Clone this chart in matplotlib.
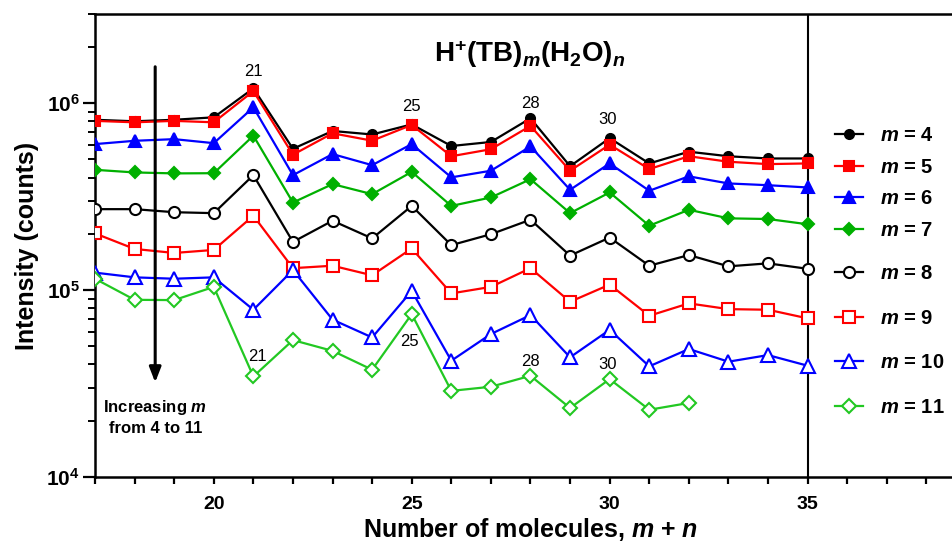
import math
import matplotlib
matplotlib.use("Agg")
import matplotlib.pyplot as plt
from matplotlib.ticker import FixedLocator, FuncFormatter, LogLocator, NullFormatter, MultipleLocator

plt.rcParams["font.family"] = ["Liberation Sans", "DejaVu Sans"]
plt.rcParams["mathtext.fontset"] = "custom"
plt.rcParams["mathtext.rm"] = "Liberation Sans:bold"
plt.rcParams["mathtext.bf"] = "Liberation Sans:bold"
plt.rcParams["mathtext.it"] = "Liberation Sans:bold:italic"

# cluster size m + n
size_all = list(range(17, 36))
size_m11 = list(range(17, 33))

# intensities (counts) for each m
m4 = [8.15e5, 8.0e5, 8.15e5, 8.4e5, 1.2e6, 5.7e5, 7.1e5, 6.8e5, 7.7e5, 5.9e5,
      6.2e5, 8.3e5, 4.6e5, 6.5e5, 4.76e5, 5.5e5, 5.2e5, 5.06e5, 5.06e5]
m5 = [8.04e5, 7.9e5, 8.04e5, 7.9e5, 1.16e6, 5.3e5, 6.9e5, 6.3e5, 7.65e5, 5.2e5,
      5.67e5, 7.56e5, 4.35e5, 6.0e5, 4.44e5, 5.2e5, 4.86e5, 4.72e5, 4.76e5]
m6 = [6.04e5, 6.29e5, 6.42e5, 6.11e5, 9.5e5, 4.12e5, 5.34e5, 4.66e5, 6.04e5, 4.01e5,
      4.35e5, 5.87e5, 3.44e5, 4.76e5, 3.4e5, 4.06e5, 3.72e5, 3.64e5, 3.54e5]
m7 = [4.4e5, 4.26e5, 4.21e5, 4.22e5, 6.7e5, 2.94e5, 3.69e5, 3.26e5, 4.29e5, 2.82e5,
      3.13e5, 3.92e5, 2.58e5, 3.33e5, 2.21e5, 2.69e5, 2.42e5, 2.4e5, 2.25e5]
m8 = [2.71e5, 2.71e5, 2.61e5, 2.58e5, 4.12e5, 1.81e5, 2.35e5, 1.89e5, 2.82e5, 1.74e5,
      1.99e5, 2.38e5, 1.53e5, 1.91e5, 1.35e5, 1.54e5, 1.34e5, 1.39e5, 1.3e5]
m9 = [2.01e5, 1.66e5, 1.58e5, 1.64e5, 2.5e5, 1.31e5, 1.35e5, 1.2e5, 1.67e5, 9.6e4,
      1.04e5, 1.31e5, 8.66e4, 1.07e5, 7.29e4, 8.49e4, 7.91e4, 7.85e4, 7.06e4]
m10 = [1.24e5, 1.17e5, 1.15e5, 1.17e5, 7.85e4, 1.28e5, 6.95e4, 5.58e4, 9.9e4, 4.19e4,
       5.82e4, 7.35e4, 4.37e4, 6.13e4, 3.91e4, 4.84e4, 4.14e4, 4.49e4, 3.94e4]
m11 = [1.15e5, 8.87e4, 8.84e4, 1.04e5, 3.45e4, 5.4e4, 4.73e4, 3.75e4, 7.44e4, 2.89e4,
       3.04e4, 3.48e4, 2.34e4, 3.34e4, 2.29e4, 2.49e4]

# magic-number labels: (text, x, y)
peak_labels_top = [("21", 21.0, 1.48e6), ("25", 25.0, 9.64e5), ("28", 28.0, 9.94e5), ("30", 29.95, 8.21e5)]
peak_labels_low = [("21", 21.1, 4.44e4), ("25", 24.95, 5.33e4), ("28", 28.0, 4.17e4), ("30", 29.95, 4.02e4)]

series = [
    ("4", size_all, m4, "k", "o", "k", 6.5),
    ("5", size_all, m5, "#ff0000", "s", "#ff0000", 7.5),
    ("6", size_all, m6, "#0000ff", "^", "#0000ff", 8),
    ("7", size_all, m7, "#00b000", "D", "#00b000", 6.5),
    ("8", size_all, m8, "k", "o", "white", 8),
    ("9", size_all, m9, "#ff0000", "s", "white", 8),
    ("10", size_all, m10, "#0000ff", "^", "white", 10),
    ("11", size_m11, m11, "#22c822", "D", "white", 7.5),
]

fig = plt.figure(figsize=(9.53, 5.42), dpi=100)
ax = fig.add_axes([0.0997, 0.1199, 0.9139, 0.8543])

lines = []
for m, xs, ys, col, mk, face, ms in series:
    ln, = ax.plot(xs, ys, color=col, lw=1.6, marker=mk, markersize=ms,
                  markerfacecolor=face, markeredgecolor=col, markeredgewidth=1.5,
                  label=f"$m$ = {m}", zorder=3)
    lines.append(ln)

ax.set_yscale("log")
ax.set_ylim(1e4, 3e6)
ax.set_xlim(17, 39)

ax.yaxis.set_major_locator(FixedLocator([1e4, 1e5, 1e6]))
ax.yaxis.set_major_formatter(FuncFormatter(lambda v, p: r"$10^{%d}$" % round(math.log10(v))))
ax.yaxis.set_minor_locator(LogLocator(base=10, subs=range(2, 10)))
ax.yaxis.set_minor_formatter(NullFormatter())
ax.xaxis.set_major_locator(FixedLocator([20, 25, 30, 35]))
ax.xaxis.set_minor_locator(MultipleLocator(1))

ax.tick_params(axis="y", which="major", direction="out", length=9, width=1.6, labelsize=15, pad=2)
ax.tick_params(axis="y", which="minor", direction="out", length=5, width=1.4)
ax.tick_params(axis="x", which="both", direction="out", length=5, width=1.6, labelsize=14, pad=9)
for lab in ax.get_xticklabels():
    lab.set_fontweight("bold")

for side in ["left", "top", "bottom"]:
    ax.spines[side].set_linewidth(1.8)
ax.spines["right"].set_visible(False)
ax.axvline(35, color="k", lw=1.5, zorder=2)

ax.set_xlabel("Number of molecules, $m$ + $n$", fontsize=18, fontweight="bold", labelpad=2)
ax.set_ylabel("Intensity (counts)", fontsize=18, fontweight="bold", labelpad=5)

ax.text(0.499, 0.914, r"$\mathrm{H^{+}(TB)}_{m}\mathrm{(H_{2}O)}_{n}$", transform=ax.transAxes,
        fontsize=20, ha="center", va="center")

for txt, x, y in peak_labels_top + peak_labels_low:
    ax.text(x, y, txt, fontsize=12, ha="center", va="center", zorder=4)

ax.annotate("", xy=(18.52, 3.1e4), xytext=(18.52, 1.62e6),
            arrowprops=dict(arrowstyle="-|>,head_width=0.35,head_length=0.9", color="k", lw=2.2))
ax.text(18.52, 2.09e4, "Increasing $m$\nfrom 4 to 11", fontsize=12, fontweight="bold",
        ha="center", va="center", linespacing=1.3)

leg_kw = dict(loc="upper left", bbox_transform=fig.transFigure, frameon=False, fontsize=14.5,
              handlelength=1.4, handletextpad=0.85, borderaxespad=0)
leg1 = ax.legend(handles=lines[:4], bbox_to_anchor=(0.8678, 0.782), labelspacing=0.62, **leg_kw)
for t in leg1.get_texts():
    t.set_fontweight("bold")
ax.add_artist(leg1)
leg2 = ax.legend(handles=lines[4:], bbox_to_anchor=(0.8678, 0.5277), labelspacing=1.27, **leg_kw)
for t in leg2.get_texts():
    t.set_fontweight("bold")

fig.savefig("out.png", dpi=100)
